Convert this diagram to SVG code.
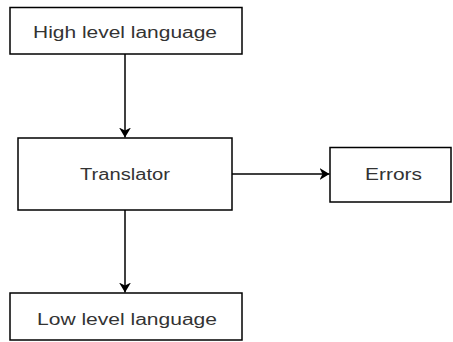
<svg xmlns="http://www.w3.org/2000/svg" width="453" height="342" viewBox="0 0 453 342">
  <style>
    .box { fill: #ffffff; stroke: #000000; stroke-width: 1.5; }
    .lbl { font-family: "Liberation Sans", Arial, sans-serif; font-size: 16px; fill: #333333; text-anchor: middle; }
    .edge { stroke: #000000; stroke-width: 1.5; fill: none; marker-end: url(#arrow); }
  </style>
  <defs>
    <marker id="arrow" viewBox="0 0 10 12" refX="10" refY="6" markerWidth="10" markerHeight="12" markerUnits="userSpaceOnUse" orient="auto">
      <path d="M0,0 L10,6 L0,12 L3,6 Z" fill="#000000"/>
    </marker>
  </defs>
  <rect width="453" height="342" fill="#ffffff"/>

  <g id="connectors">
    <line class="edge" x1="125" y1="54" x2="125" y2="137.5"/>
    <line class="edge" x1="232" y1="174" x2="329.5" y2="174"/>
    <line class="edge" x1="125" y1="210" x2="125" y2="292.5"/>
  </g>

  <g id="high-level">
    <rect class="box" x="10" y="7.5" width="232" height="46.5"/>
    <text class="lbl" x="125" y="38" textLength="184" lengthAdjust="spacingAndGlyphs">High level language</text>
  </g>

  <g id="translator">
    <rect class="box" x="18" y="138" width="214" height="72"/>
    <text class="lbl" x="125" y="180" textLength="90" lengthAdjust="spacingAndGlyphs">Translator</text>
  </g>

  <g id="errors">
    <rect class="box" x="330" y="147.5" width="121" height="54.5"/>
    <text class="lbl" x="393.5" y="180" textLength="57" lengthAdjust="spacingAndGlyphs">Errors</text>
  </g>

  <g id="low-level">
    <rect class="box" x="10" y="293" width="232" height="47"/>
    <text class="lbl" x="127" y="325" textLength="180" lengthAdjust="spacingAndGlyphs">Low level language</text>
  </g>
</svg>
